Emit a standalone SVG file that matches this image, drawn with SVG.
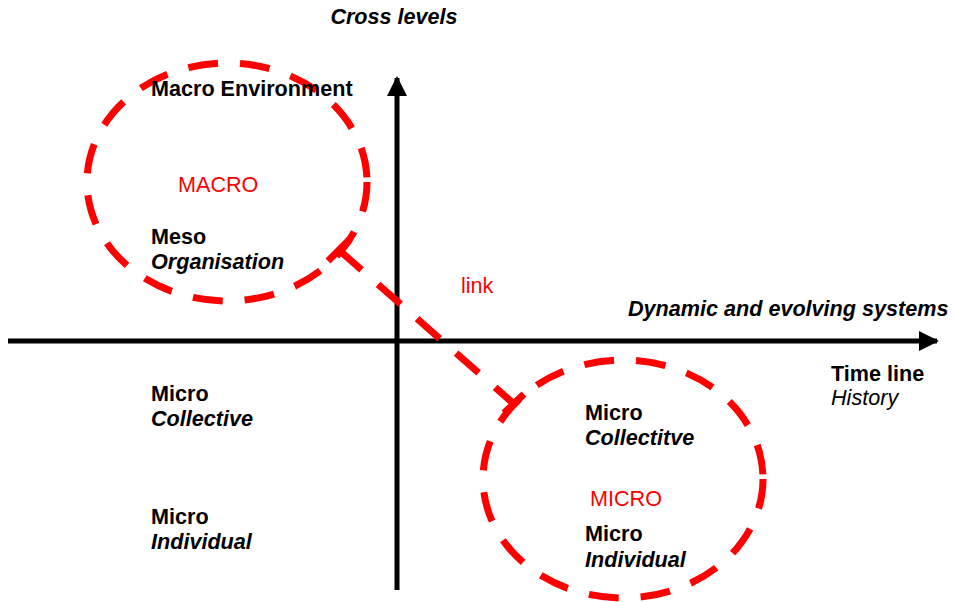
<svg xmlns="http://www.w3.org/2000/svg" width="954" height="602" viewBox="0 0 954 602">
<style>
text{font-family:"Liberation Sans",Arial,sans-serif;font-size:21.6px;fill:#000}
.b{font-weight:bold}
.bi{font-weight:bold;font-style:italic}
.i{font-style:italic}
.r{fill:#f00}
.dash{fill:none;stroke:#f00;stroke-width:7;stroke-dasharray:30 22}
.axis{stroke:#000;stroke-width:5;fill:none}
</style>
<defs>
<marker id="ah" viewBox="0 0 10 10" refX="9" refY="5" markerWidth="4" markerHeight="4" orient="auto" markerUnits="strokeWidth">
<path d="M0,0 L10,5 L0,10 z" fill="#000"/>
</marker>
</defs>
<g id="connectors">
<line class="axis" x1="8" y1="341" x2="937" y2="341" marker-end="url(#ah)"/>
<line class="axis" x1="397" y1="590" x2="397" y2="78" marker-end="url(#ah)"/>
<g id="link">
<line x1="339" y1="250" x2="514" y2="404" stroke="#f00" stroke-width="7" stroke-dasharray="30 22"/>
<line x1="328" y1="261" x2="350" y2="239" stroke="#f00" stroke-width="7"/>
<line x1="504" y1="413" x2="524" y2="394" stroke="#f00" stroke-width="7"/>
</g>
</g>
<g id="macro">
<ellipse class="dash" cx="227" cy="182" rx="140" ry="119"/>
<text class="r" x="178" y="192">MACRO</text>
</g>
<g id="micro">
<ellipse class="dash" cx="623" cy="479" rx="140" ry="119"/>
<text class="r" x="590" y="506">MICRO</text>
</g>
<g id="cross-levels"><text class="bi" x="394" y="24" text-anchor="middle">Cross levels</text></g>
<g id="macro-env"><text class="b" x="151" y="96">Macro Environment</text></g>
<g id="meso"><text class="b" x="151" y="244">Meso</text><text class="bi" x="151" y="269">Organisation</text></g>
<g id="link-label"><text class="r" x="461" y="293">link</text></g>
<g id="dynamic"><text class="bi" x="628" y="316">Dynamic and evolving systems</text></g>
<g id="timeline"><text class="b" x="831" y="381">Time line</text><text class="i" x="831" y="405">History</text></g>
<g id="micro-collective-left"><text class="b" x="151" y="401">Micro</text><text class="bi" x="151" y="426">Collective</text></g>
<g id="micro-individual-left"><text class="b" x="151" y="524">Micro</text><text class="bi" x="151" y="549">Individual</text></g>
<g id="micro-collective-right"><text class="b" x="585" y="420">Micro</text><text class="bi" x="585" y="445">Collectitve</text></g>
<g id="micro-individual-right"><text class="b" x="585" y="541">Micro</text><text class="bi" x="585" y="567">Individual</text></g>
</svg>
